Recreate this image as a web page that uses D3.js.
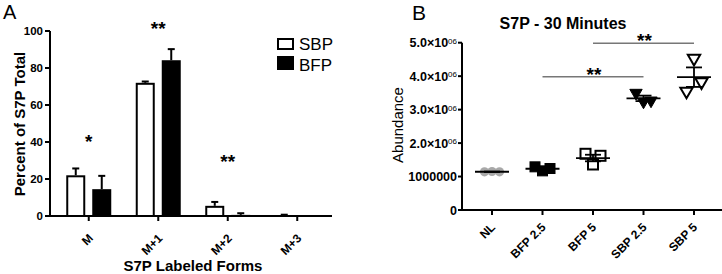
<!DOCTYPE html>
<html>
  <head>
    <meta charset="utf-8" />
    <title>S7P</title>
    <script src="https://cdn.jsdelivr.net/npm/d3@7"></script>
    <style type="text/css">
      body { margin: 0; background: #fff; }
      svg { font-family: 'Liberation Sans', Arial, sans-serif; }
    </style>
  </head>
  <body>
    <svg id="fig" width="722" height="274"></svg>
    <script type="text/javascript">
      // panel A data
      var formsA = ['M', 'M+1', 'M+2', 'M+3'];
      var seriesA = ['SBP', 'BFP'];
      var sbpMean = [22, 72, 5.5, 0.3];
      var sbpErr = [3.7, 0.7, 2.1, 0.4];
      var bfpMean = [14.5, 84.2, 0.6, 0];
      var bfpErr = [7.2, 6, 0.9, 0];
      var starsA = ['*', '**', '**', ''];
      var starYA = [36.8, 97.8, 26, 0]; // where the stars sit, in percent
      var ticksA = [0, 20, 40, 60, 80, 100];

      // panel B data (abundance, one value per replicate)
      var groupsB = ['NL', 'BFP 2.5', 'BFP 5', 'SBP 2.5', 'SBP 5'];
      var nl = [1.14e6, 1.15e6, 1.14e6];
      var bfp25 = [1.29e6, 1.17e6, 1.24e6];
      var bfp5 = [1.68e6, 1.36e6, 1.62e6];
      var sbp25 = [3.5e6, 3.24e6, 3.27e6];
      var sbp5 = [3.55e6, 4.53e6, 3.83e6];
      var ticksB = [0, 1e6, 2e6, 3e6, 4e6, 5e6];
      var sigPairs = [['BFP 2.5', 'SBP 2.5', 3.98e6], ['BFP 5', 'SBP 5', 4.98e6]];

      var svg = d3.select('#fig');
      svg.append('rect').attr('width', 722).attr('height', 274).attr('fill', '#fff');

      // ---------- panel A ----------
      var gA = svg.append('g');
      var xA = d3.scaleBand().domain(formsA).range([54, 332]);
      var yA = d3.scaleLinear().domain([0, 100]).range([216, 31]);
      var barW = 19, gap = 7;

      gA.append('text').attr('x', 3).attr('y', 19).attr('font-size', 20).text('A');

      var rowsA = formsA.map(function (f, i) {
        return [
          { f: f, s: 'SBP', v: sbpMean[i], e: sbpErr[i], off: -gap / 2 - barW },
          { f: f, s: 'BFP', v: bfpMean[i], e: bfpErr[i], off: gap / 2 }
        ];
      }).flat();

      var cx = function (d) { return xA(d.f) + xA.bandwidth() / 2; };

      // error bars (up only)
      var eb = gA.selectAll('g.eb').data(rowsA.filter(function (d) { return d.e > 0; }))
        .enter().append('g').attr('stroke', '#000').attr('stroke-width', 2);
      eb.append('line')
        .attr('x1', function (d) { return cx(d) + d.off + barW / 2; })
        .attr('x2', function (d) { return cx(d) + d.off + barW / 2; })
        .attr('y1', function (d) { return yA(d.v); })
        .attr('y2', function (d) { return yA(d.v + d.e); });
      eb.append('line')
        .attr('x1', function (d) { return cx(d) + d.off + barW / 2 - 3.5; })
        .attr('x2', function (d) { return cx(d) + d.off + barW / 2 + 3.5; })
        .attr('y1', function (d) { return yA(d.v + d.e); })
        .attr('y2', function (d) { return yA(d.v + d.e); });

      gA.selectAll('rect.bar').data(rowsA.filter(function (d) { return d.v > 0; }))
        .enter().append('rect')
        .attr('x', function (d) { return cx(d) + d.off + 1; })
        .attr('width', barW - 2)
        .attr('y', function (d) { return yA(d.v) + 1; })
        .attr('height', function (d) { return Math.max(0, yA(0) - yA(d.v) - 1); })
        .attr('fill', function (d) { return d.s === 'SBP' ? '#fff' : '#000'; })
        .attr('stroke', '#000').attr('stroke-width', 2);

      // axes
      var axA = gA.append('g').attr('stroke', '#000').attr('stroke-width', 2);
      axA.append('line').attr('x1', 50).attr('x2', 50).attr('y1', yA(100)).attr('y2', yA(0) + 1);
      axA.append('line').attr('x1', 49).attr('x2', 332).attr('y1', yA(0)).attr('y2', yA(0));
      axA.selectAll('line.ty').data(ticksA).enter().append('line')
        .attr('x1', 45).attr('x2', 50)
        .attr('y1', function (d) { return yA(d); }).attr('y2', function (d) { return yA(d); });
      axA.selectAll('line.tx').data(formsA).enter().append('line')
        .attr('x1', function (d) { return xA(d) + xA.bandwidth() / 2; })
        .attr('x2', function (d) { return xA(d) + xA.bandwidth() / 2; })
        .attr('y1', yA(0)).attr('y2', yA(0) + 5);

      gA.selectAll('text.ty').data(ticksA).enter().append('text')
        .attr('x', 43).attr('y', function (d) { return yA(d); }).attr('dy', '0.36em')
        .attr('text-anchor', 'end').attr('font-size', 11.5).attr('font-weight', 'bold')
        .text(function (d) { return d; });

      gA.selectAll('text.tx').data(formsA).enter().append('text')
        .attr('text-anchor', 'end').attr('font-size', 12).attr('font-weight', 'bold')
        .attr('transform', function (d) {
          return 'translate(' + (xA(d) + xA.bandwidth() / 2 + 5) + ',' + 239 + ') rotate(-45)';
        })
        .text(function (d) { return d; });

      gA.append('text').attr('x', 193).attr('y', 271).attr('text-anchor', 'middle')
        .attr('font-size', 15).attr('font-weight', 'bold').text('S7P Labeled Forms');
      gA.append('text').attr('transform', 'translate(25,' + 124 + ') rotate(-90)')
        .attr('text-anchor', 'middle').attr('font-size', 15).attr('font-weight', 'bold')
        .text('Percent of S7P Total');

      // significance stars
      gA.selectAll('text.star').data(formsA.filter(function (f, i) { return starsA[i]; }))
        .enter().append('text')
        .attr('x', function (d) { return xA(d) + xA.bandwidth() / 2; })
        .attr('y', function (d) { return yA(starYA[formsA.indexOf(d)]); })
        .attr('text-anchor', 'middle').attr('font-size', 19).attr('font-weight', 'bold')
        .text(function (d) { return starsA[formsA.indexOf(d)]; });

      // legend
      var lg = gA.append('g');
      lg.selectAll('rect').data(seriesA).enter().append('rect')
        .attr('x', 278).attr('y', function (d, i) { return i ? 57 : 39; })
        .attr('width', 15).attr('height', function (d, i) { return i ? 12 : 10; })
        .attr('fill', function (d) { return d === 'SBP' ? '#fff' : '#000'; })
        .attr('stroke', '#000').attr('stroke-width', 2);
      lg.selectAll('text').data(seriesA).enter().append('text')
        .attr('x', 299).attr('y', function (d, i) { return 50 + i * 20.5; })
        .attr('font-size', 17).text(function (d) { return d; });

      // ---------- panel B ----------
      var gB = svg.append('g');
      var xB = d3.scaleBand().domain(groupsB).range([466.75, 719.25]);
      var yB = d3.scaleLinear().domain([0, 5e6]).range([210, 42.7]);
      var cB = function (g) { return xB(g) + xB.bandwidth() / 2; };

      gB.append('text').attr('x', 412).attr('y', 20).attr('font-size', 21).text('B');
      gB.append('text').attr('x', 563).attr('y', 29).attr('text-anchor', 'middle')
        .attr('font-size', 16).attr('font-weight', 'bold').text('S7P - 30 Minutes');
      gB.append('text').attr('transform', 'translate(403,125) rotate(-90)')
        .attr('text-anchor', 'middle').attr('font-size', 15).text('Abundance');

      var axB = gB.append('g').attr('stroke', '#000').attr('stroke-width', 2);
      axB.append('line').attr('x1', 462).attr('x2', 462).attr('y1', yB(5e6)).attr('y2', yB(0) + 1);
      axB.append('line').attr('x1', 461).attr('x2', 722).attr('y1', yB(0)).attr('y2', yB(0));
      axB.selectAll('line.ty').data(ticksB).enter().append('line')
        .attr('x1', 458).attr('x2', 462)
        .attr('y1', function (d) { return yB(d); }).attr('y2', function (d) { return yB(d); });
      axB.selectAll('line.tx').data(groupsB).enter().append('line')
        .attr('x1', cB).attr('x2', cB).attr('y1', yB(0)).attr('y2', yB(0) + 5);

      var tl = gB.selectAll('text.ty').data(ticksB).enter().append('text')
        .attr('x', 457).attr('y', function (d) { return yB(d); }).attr('dy', '0.36em')
        .attr('text-anchor', 'end').attr('font-size', 12.5).attr('font-weight', 'bold');
      tl.each(function (d) {
        var t = d3.select(this);
        if (d === 0 || d === 1e6) { t.text(d); return; }
        t.append('tspan').text(d3.format('.1f')(d / 1e6) + '\u00d710');
        t.append('tspan').attr('dy', '-0.45em').attr('font-size', 8).attr('font-weight', 'normal').text('06');
      });

      gB.selectAll('text.tx').data(groupsB).enter().append('text')
        .attr('text-anchor', 'end').attr('font-size', 12).attr('font-weight', 'bold')
        .attr('transform', function (d) { return 'translate(' + (cB(d) + 4) + ',228) rotate(-45)'; })
        .text(function (d) { return d; });

      // significance lines
      var sg = gB.selectAll('g.sig').data(sigPairs).enter().append('g');
      sg.append('line')
        .attr('x1', function (d) { return cB(d[0]); }).attr('x2', function (d) { return cB(d[1]); })
        .attr('y1', function (d) { return yB(d[2]); }).attr('y2', function (d) { return yB(d[2]); })
        .attr('stroke', '#777').attr('stroke-width', 1.5);
      sg.append('text')
        .attr('x', function (d) { return (cB(d[0]) + cB(d[1])) / 2 + 1; })
        .attr('y', function (d) { return yB(d[2]) + 4; })
        .attr('text-anchor', 'middle').attr('font-size', 19).attr('font-weight', 'bold').text('**');

      // scatter points
      var groupsData = [nl, bfp25, bfp5, sbp25, sbp5];
      var jitter = [-7.5, 0, 7.5];
      var pts = [];
      groupsData.forEach(function (vals, gi) {
        vals.forEach(function (v, j) { pts.push({ g: groupsB[gi], gi: gi, v: v, j: j }); });
      });
      var px = function (d) { return cB(d.g) + jitter[d.j]; };
      var tri = d3.symbol().type(d3.symbolTriangle).size(66);

      pts.forEach(function (d) {
        var x = px(d), y = yB(d.v);
        if (d.gi === 0) {
          gB.append('circle').attr('cx', x).attr('cy', y).attr('r', 4.6).attr('fill', '#a8a8a8');
        } else if (d.gi === 1 || d.gi === 2) {
          gB.append('rect').attr('x', x - 5).attr('y', y - 5).attr('width', 10).attr('height', 10)
            .attr('fill', d.gi === 1 ? '#000' : 'none').attr('stroke', '#000')
            .attr('stroke-width', d.gi === 1 ? 1 : 2);
        } else {
          gB.append('path').attr('d', tri)
            .attr('transform', 'translate(' + x + ',' + y + ') rotate(180)')
            .attr('fill', d.gi === 3 ? '#000' : '#fff').attr('stroke', '#000')
            .attr('stroke-width', d.gi === 3 ? 1 : 2);
        }
      });

      // mean and SEM
      var stats = groupsData.map(function (vals, gi) {
        return { g: groupsB[gi], m: d3.mean(vals), se: d3.deviation(vals) / Math.sqrt(vals.length) };
      });
      var st = gB.selectAll('g.st').data(stats).enter().append('g')
        .attr('stroke', '#000').attr('stroke-width', 1.8);
      st.append('line')
        .attr('x1', function (d) { return cB(d.g) - 17; }).attr('x2', function (d) { return cB(d.g) + 17; })
        .attr('y1', function (d) { return yB(d.m); }).attr('y2', function (d) { return yB(d.m); });
      st.append('line')
        .attr('x1', function (d) { return cB(d.g); }).attr('x2', function (d) { return cB(d.g); })
        .attr('y1', function (d) { return yB(d.m - d.se); }).attr('y2', function (d) { return yB(d.m + d.se); });
      [-1, 1].forEach(function (s) {
        st.append('line')
          .attr('x1', function (d) { return cB(d.g) - 8; }).attr('x2', function (d) { return cB(d.g) + 8; })
          .attr('y1', function (d) { return yB(d.m + s * d.se); }).attr('y2', function (d) { return yB(d.m + s * d.se); });
      });
    </script>
  </body>
</html>
